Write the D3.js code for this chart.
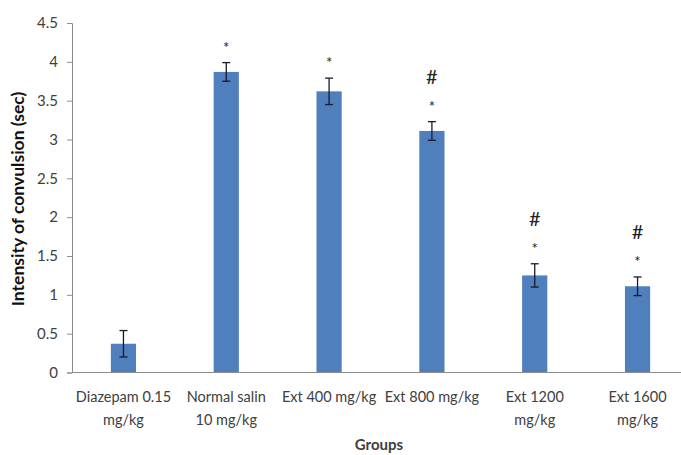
<!DOCTYPE html>
<html>
<head>
<meta charset="utf-8">
<script src="https://cdn.jsdelivr.net/npm/d3@7"></script>
<style>
  html, body { margin: 0; padding: 0; background: #fff; }
  svg { display: block; }
  text { font-family: Lato, "Open Sans", sans-serif; }
</style>
</head>
<body>
<svg id="chart" width="681" height="455"></svg>
<script>
// Convulsion intensity by treatment group (mean ± SE)
const groups = [
  ["Diazepam 0.15", "mg/kg"],
  ["Normal salin", "10 mg/kg"],
  ["Ext 400 mg/kg"],
  ["Ext 800 mg/kg"],
  ["Ext 1200", "mg/kg"],
  ["Ext 1600", "mg/kg"]
];
const means = [0.37, 3.87, 3.62, 3.11, 1.25, 1.11];
const errors = [0.17, 0.12, 0.17, 0.12, 0.15, 0.12];
// significance markers: "*" vs diazepam, "#" vs normal saline
const starMarks = [false, true, true, true, true, true];
const hashMarks = [false, false, false, true, true, true];
const yTicks = [0, 0.5, 1, 1.5, 2, 2.5, 3, 3.5, 4, 4.5];
const yTitle = "Intensity of convulsion (sec)";
const xTitle = "Groups";

const svg = d3.select("#chart");
const plotLeft = 72, plotRight = 689, plotTop = 23, plotBottom = 372.5;

const x = d3.scaleBand().domain(d3.range(groups.length)).range([plotLeft, plotRight]).paddingInner(0.755).paddingOuter(0.378);
const y = d3.scaleLinear().domain([0, 4.5]).range([plotBottom, plotTop]);

// y axis
const yAxis = svg.append("g").attr("transform", `translate(${plotLeft},0)`)
  .call(d3.axisLeft(y).tickValues(yTicks).tickSize(5).tickPadding(9).tickFormat(d3.format("")));
yAxis.select(".domain").attr("stroke", "#8c8c8c");
yAxis.selectAll(".tick line").attr("stroke", "#8c8c8c");
yAxis.selectAll(".tick text").attr("font-size", 15).attr("fill", "#404040");

// bars
svg.append("g").selectAll("rect").data(means).join("rect")
  .attr("x", (d, i) => x(i))
  .attr("width", x.bandwidth())
  .attr("y", d => y(d))
  .attr("height", d => y(0) - y(d))
  .attr("fill", "#4f7fbd");

// x axis line
svg.append("line").attr("x1", plotLeft).attr("x2", plotRight).attr("y1", plotBottom).attr("y2", plotBottom)
  .attr("stroke", "#8c8c8c");

// error bars
const eb = svg.append("g").attr("stroke", "#1a1a2e").attr("stroke-width", 1.3);
means.forEach((m, i) => {
  const cx = x(i) + x.bandwidth() / 2;
  eb.append("line").attr("x1", cx).attr("x2", cx).attr("y1", y(m + errors[i])).attr("y2", y(m - errors[i]));
  [m + errors[i], m - errors[i]].forEach(v => {
    eb.append("line").attr("x1", cx - 4).attr("x2", cx + 4).attr("y1", y(v)).attr("y2", y(v));
  });
});

// significance markers
means.forEach((m, i) => {
  const cx = x(i) + x.bandwidth() / 2;
  const topY = y(m + errors[i]);
  if (starMarks[i]) {
    svg.append("text").attr("x", cx).attr("y", topY - 10).attr("text-anchor", "middle")
      .attr("font-size", 15).attr("fill", "#222").text("*");
  }
  if (hashMarks[i]) {
    svg.append("text").attr("x", cx).attr("y", topY - 38).attr("text-anchor", "middle")
      .attr("font-size", 20).attr("fill", "#222").text("#");
  }
});

// category labels
const xl = svg.append("g");
groups.forEach((lines, i) => {
  const cx = x(i) + x.bandwidth() / 2;
  lines.forEach((t, j) => {
    xl.append("text").attr("x", cx).attr("y", 402 + j * 23).attr("text-anchor", "middle")
      .attr("font-size", 14.5).attr("fill", "#404040").text(t);
  });
});

// axis titles
svg.append("text").attr("transform", `translate(24,199) rotate(-90)`)
  .attr("text-anchor", "middle").attr("font-size", 17.5).attr("font-weight", "bold").attr("fill", "#111")
  .text(yTitle);
svg.append("text").attr("x", 379).attr("y", 450).attr("text-anchor", "middle")
  .attr("font-size", 15).attr("font-weight", "bold").attr("fill", "#404040").text(xTitle);
</script>
</body>
</html>
